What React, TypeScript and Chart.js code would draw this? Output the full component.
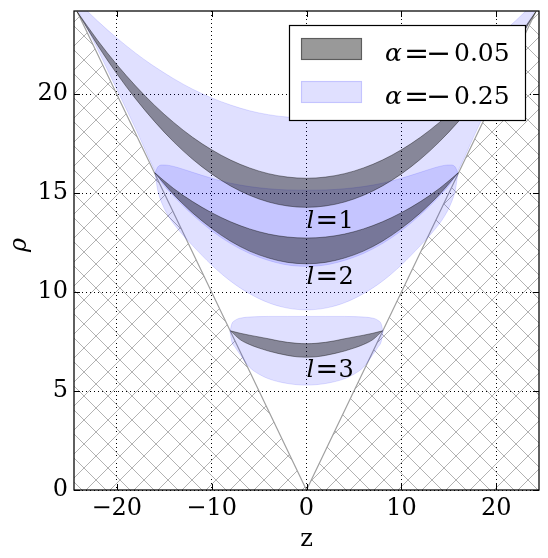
import { useEffect, useRef } from 'react';
import { Chart, registerables } from 'chart.js';

Chart.register(...registerables);

// ---- axes ----
const zRange = [-24.5, 24.5];
const rhoRange = [0, 24.2];
const xTickValues = [-20, -10, 0, 10, 20];
const yTickValues = [0, 5, 10, 15, 20];

// ---- light cone rho = |z| (hatched outside) ----
const coneZ = [-24.5, 0, 24.5];
const coneRho = [24.5, 0, 24.5];

// ---- alpha = -0.05 bands (dark) ----
const zDark1 = [-24.15, -22, -20, -18, -16, -14, -12, -10, -8, -6, -4, -2, 0, 2, 4, 6, 8, 10, 12, 14, 16, 18, 20, 22, 24.15];
const dark1Upper = [24.15, 22.71, 21.5, 20.41, 19.43, 18.57, 17.82, 17.19, 16.67, 16.27, 15.98, 15.81, 15.75, 15.81, 15.98, 16.27, 16.67, 17.19, 17.82, 18.57, 19.43, 20.41, 21.5, 22.71, 24.15];
const dark1Lower = [24.15, 22.46, 21.04, 19.76, 18.61, 17.59, 16.71, 15.97, 15.36, 14.89, 14.55, 14.35, 14.28, 14.35, 14.55, 14.89, 15.36, 15.97, 16.71, 17.59, 18.61, 19.76, 21.04, 22.46, 24.15];

const zDark2 = [-16, -14, -12, -10, -8, -6, -4, -2, 0, 2, 4, 6, 8, 10, 12, 14, 16];
const dark2Upper = [16.03, 15.23, 14.57, 14.01, 13.55, 13.19, 12.93, 12.78, 12.73, 12.78, 12.93, 13.19, 13.55, 14.01, 14.57, 15.23, 16.03];
const dark2Lower = [16.03, 14.93, 14.0, 13.22, 12.57, 12.07, 11.72, 11.5, 11.43, 11.5, 11.72, 12.07, 12.57, 13.22, 14.0, 14.93, 16.03];

const zDark3 = [-8, -7, -6, -5, -4, -3, -2, -1, 0, 1, 2, 3, 4, 5, 6, 7, 8];
const dark3Upper = [8.04, 7.92, 7.82, 7.73, 7.64, 7.54, 7.46, 7.41, 7.39, 7.41, 7.46, 7.54, 7.64, 7.73, 7.82, 7.92, 8.04];
const dark3Lower = [8.04, 7.6, 7.35, 7.17, 7.02, 6.9, 6.8, 6.73, 6.71, 6.73, 6.8, 6.9, 7.02, 7.17, 7.35, 7.6, 8.04];

// ---- alpha = -0.25 bands (light blue) ----
const zBlue1 = [-24.3, -22, -20, -18, -16.3, -15.5, -14, -12, -10, -8, -6, -4, -2, 0, 2, 4, 6, 8, 10, 12, 14, 15.5, 16.3, 18, 20, 22, 24.3];
const blue1Upper = [24.76, 23.69, 22.84, 22.07, 21.48, 21.23, 20.78, 20.25, 19.81, 19.45, 19.16, 18.96, 18.84, 18.8, 18.84, 18.96, 19.16, 19.45, 19.81, 20.25, 20.78, 21.23, 21.48, 22.07, 22.84, 23.69, 24.76];
const blue1Lower = [24.45, 22.25, 20.25, 18.25, 16.45, 15.7, 14.85, 13.9, 13.1, 12.45, 11.95, 11.6, 11.37, 11.3, 11.37, 11.6, 11.95, 12.45, 13.1, 13.9, 14.85, 15.7, 16.45, 18.25, 20.25, 22.25, 24.45];

const zBlue2 = [-15.95, -15.7, -15.2, -14.5, -13.5, -12, -10, -8, -6, -4, -2, 0, 2, 4, 6, 8, 10, 12, 13.5, 14.5, 15.2, 15.7, 15.95];
const blue2Upper = [16.0, 16.3, 16.42, 16.4, 16.28, 16.05, 15.75, 15.5, 15.33, 15.22, 15.16, 15.15, 15.16, 15.22, 15.33, 15.5, 15.75, 16.05, 16.28, 16.4, 16.42, 16.3, 16.0];
const blue2Lower = [16.0, 15.2, 14.45, 13.8, 13.15, 12.35, 11.37, 10.55, 9.92, 9.46, 9.19, 9.1, 9.19, 9.46, 9.92, 10.55, 11.37, 12.35, 13.15, 13.8, 14.45, 15.2, 16.0];

const zBlue3 = [-8.05, -7.9, -7.5, -7, -6, -5, -4, -2, 0, 2, 4, 5, 6, 7, 7.5, 7.9, 8.05];
const blue3Upper = [8.0, 8.35, 8.58, 8.68, 8.74, 8.76, 8.77, 8.77, 8.77, 8.77, 8.77, 8.76, 8.74, 8.68, 8.58, 8.35, 8.0];
const blue3Lower = [8.0, 7.55, 7.2, 6.85, 6.2, 5.85, 5.62, 5.38, 5.3, 5.38, 5.62, 5.85, 6.2, 6.85, 7.2, 7.55, 8.0];

// ---- texts ----
const seriesAlphaValues = ['0.05', '0.25'];
const levelNames = ['1', '2', '3'];
const levelLabelZ = [0, 0, 0];
const levelLabelRho = [13.23, 10.41, 5.7];
const xTitle = 'z';
const yTitle = '\u03c1';

const DARK = 'rgba(0,0,0,0.4)';
const BLUE = 'rgba(0,0,255,0.12)';
const SERIF = "'DejaVu Serif', serif";

const pts = (zs: number[], rs: number[]) => zs.map((z, i) => ({ x: z, y: rs[i] }));
const fmt = (v: number) => (v < 0 ? '\u2212' + Math.abs(v) : String(v));

function band(label: string, zs: number[], up: number[], lo: number[], color: string) {
  const common = {
    pointRadius: 0,
    borderWidth: 1,
    borderColor: color,
    cubicInterpolationMode: 'monotone' as const,
    clip: 0,
  };
  return [
    { ...common, label, data: pts(zs, up), fill: '+1', backgroundColor: color },
    { ...common, label: label + ' (lower)', data: pts(zs, lo), fill: false, backgroundColor: color },
  ];
}

const decorPlugin = {
  id: 'decor',
  afterDraw(chart: any) {
    const { ctx, chartArea: a, scales } = chart;
    const x = scales.x;
    const y = scales.y;
    ctx.save();

    // level labels l = n
    ctx.fillStyle = '#000';
    ctx.textBaseline = 'alphabetic';
    ctx.textAlign = 'left';
    levelNames.forEach((n, i) => {
      const px = x.getPixelForValue(levelLabelZ[i]);
      const py = y.getPixelForValue(levelLabelRho[i]);
      ctx.font = `italic 24px ${SERIF}`;
      ctx.fillText('l', px, py);
      ctx.font = `27px ${SERIF}`;
      ctx.fillText('=', px + 9, py + 1);
      ctx.font = `24px ${SERIF}`;
      ctx.fillText(n, px + 32, py);
    });

    // frame
    ctx.strokeStyle = '#000';
    ctx.lineWidth = 1.25;
    ctx.strokeRect(a.left, a.top, a.right - a.left, a.bottom - a.top);

    // inward ticks on all sides
    ctx.lineWidth = 1;
    ctx.beginPath();
    xTickValues.forEach((v) => {
      const px = Math.round(x.getPixelForValue(v)) + 0.5;
      ctx.moveTo(px, a.bottom); ctx.lineTo(px, a.bottom - 6);
      ctx.moveTo(px, a.top); ctx.lineTo(px, a.top + 6);
    });
    yTickValues.forEach((v) => {
      const py = Math.round(y.getPixelForValue(v)) + 0.5;
      ctx.moveTo(a.left, py); ctx.lineTo(a.left + 6, py);
      ctx.moveTo(a.right, py); ctx.lineTo(a.right - 6, py);
    });
    ctx.stroke();

    // axis titles
    ctx.fillStyle = '#000';
    ctx.font = `24px ${SERIF}`;
    ctx.textAlign = 'center';
    ctx.textBaseline = 'alphabetic';
    ctx.fillText(xTitle, (a.left + a.right) / 2, 546);
    ctx.save();
    ctx.translate(26, 245);
    ctx.rotate(-Math.PI / 2);
    ctx.font = `italic 24px ${SERIF}`;
    ctx.fillText(yTitle, 0, 0);
    ctx.restore();

    // legend
    const bw = 236, bh = 95;
    const bx = a.right - 14 - bw;
    const by = a.top + 14;
    ctx.fillStyle = '#fff';
    ctx.fillRect(bx, by, bw, bh);
    ctx.strokeStyle = '#000';
    ctx.lineWidth = 1.2;
    ctx.strokeRect(Math.round(bx) + 0.5, Math.round(by) + 0.5, bw, bh);
    const colors = [DARK, BLUE];
    const rowTop = [13, 56];
    seriesAlphaValues.forEach((val, i) => {
      const py = by + rowTop[i];
      ctx.fillStyle = colors[i];
      ctx.fillRect(bx + 12, py, 61, 22);
      ctx.strokeStyle = colors[i];
      ctx.lineWidth = 1.2;
      ctx.strokeRect(bx + 12.5, py + 0.5, 60, 21);
      ctx.fillStyle = '#000';
      ctx.textAlign = 'left';
      ctx.textBaseline = 'alphabetic';
      const tx = bx + 96;
      ctx.font = `italic 25px ${SERIF}`;
      ctx.fillText('\u03b1', tx, py + 23);
      ctx.font = `30px ${SERIF}`;
      ctx.fillText('=', tx + 19, py + 25);
      ctx.fillText('\u2212', tx + 41, py + 25);
      ctx.font = `25px ${SERIF}`;
      ctx.fillText(val, tx + 69, py + 23);
    });

    ctx.restore();
  },
};

export default function App() {
  const ref = useRef<HTMLCanvasElement>(null);
  useEffect(() => {
    const canvas = ref.current!;
    const tile = document.createElement('canvas');
    tile.width = 24;
    tile.height = 24;
    const t = tile.getContext('2d')!;
    t.strokeStyle = '#b2b2b2';
    t.lineWidth = 1;
    t.beginPath();
    t.moveTo(-2, -2); t.lineTo(26, 26);
    t.moveTo(-2, 26); t.lineTo(26, -2);
    t.stroke();
    const hatch = canvas.getContext('2d')!.createPattern(tile, 'repeat')!;

    const datasets: any[] = [
      ...band('\u03b1 = \u22120.05, l = 1', zDark1, dark1Upper, dark1Lower, DARK),
      ...band('\u03b1 = \u22120.05, l = 2', zDark2, dark2Upper, dark2Lower, DARK),
      ...band('\u03b1 = \u22120.05, l = 3', zDark3, dark3Upper, dark3Lower, DARK),
      ...band('\u03b1 = \u22120.25, l = 1', zBlue1, blue1Upper, blue1Lower, BLUE),
      ...band('\u03b1 = \u22120.25, l = 2', zBlue2, blue2Upper, blue2Lower, BLUE),
      ...band('\u03b1 = \u22120.25, l = 3', zBlue3, blue3Upper, blue3Lower, BLUE),
      {
        label: 'cone',
        data: pts(coneZ, coneRho),
        fill: 'origin',
        backgroundColor: hatch,
        borderColor: '#a0a0a0',
        borderWidth: 1.2,
        pointRadius: 0,
        tension: 0,
        clip: 0,
      },
    ];

    const tickFont = { family: SERIF, size: 24 };
    const chart = new Chart(canvas, {
      type: 'line',
      data: { datasets },
      plugins: [decorPlugin],
      options: {
        animation: false,
        responsive: true,
        maintainAspectRatio: false,
        events: [],
        layout: { padding: { left: 0, right: 9, top: 11, bottom: 0 } },
        plugins: { legend: { display: false }, tooltip: { enabled: false } },
        scales: {
          x: {
            type: 'linear',
            min: zRange[0],
            max: zRange[1],
            z: 1,
            afterFit: (s: any) => { s.height = 68; s.paddingLeft = 0; s.paddingRight = 0; },
            afterBuildTicks: (s: any) => { s.ticks = xTickValues.map((v) => ({ value: v })); },
            ticks: { padding: 4, color: '#000', font: tickFont, callback: (v: any) => fmt(Number(v)), maxRotation: 0, autoSkip: false },
            grid: { color: '#000', lineWidth: 1, drawTicks: false },
            border: { display: false, dash: [1, 3] },
          },
          y: {
            type: 'linear',
            min: rhoRange[0],
            max: rhoRange[1],
            z: 1,
            afterFit: (s: any) => { s.width = 74; s.paddingTop = 0; s.paddingBottom = 0; },
            afterBuildTicks: (s: any) => { s.ticks = yTickValues.map((v) => ({ value: v })); },
            ticks: { padding: 6, color: '#000', font: tickFont, callback: (v: any) => fmt(Number(v)), autoSkip: false },
            grid: { color: '#000', lineWidth: 1, drawTicks: false },
            border: { display: false, dash: [1, 3] },
          },
        },
      } as any,
    });
    return () => chart.destroy();
  }, []);

  return (
    <div style={{ position: 'absolute', left: 0, top: 0, width: 548, height: 558, background: '#fff' }}>
      <canvas ref={ref} />
    </div>
  );
}
